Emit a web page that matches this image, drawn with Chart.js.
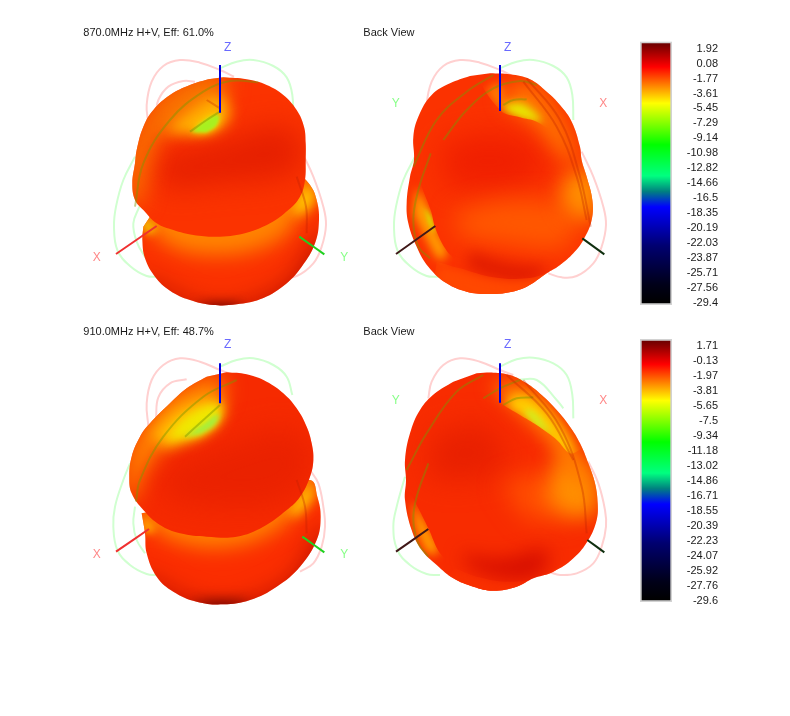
<!DOCTYPE html>
<html>
<head>
<meta charset="utf-8">
<title>Radiation patterns</title>
<script src="https://cdn.jsdelivr.net/npm/chart.js@4"></script>
<style>
    html, body { margin: 0; background: #fff; }
    canvas { position: absolute; }
</style>
</head>
<body>
<canvas id="p1" style="left:80px;top:20px"></canvas>
<canvas id="p2" style="left:360px;top:20px"></canvas>
<canvas id="p3" style="left:80px;top:320px"></canvas>
<canvas id="p4" style="left:360px;top:320px"></canvas>
<canvas id="scale870" style="left:630px;top:35px"></canvas>
<canvas id="scale910" style="left:630px;top:330px"></canvas>
<script>
// Colour scale values in dB
const ticks870 = [1.92, 0.08, -1.77, -3.61, -5.45, -7.29, -9.14, -10.98, -12.82, -14.66, -16.5, -18.35, -20.19, -22.03, -23.87, -25.71, -27.56, -29.4];
const ticks910 = [1.71, -0.13, -1.97, -3.81, -5.65, -7.5, -9.34, -11.18, -13.02, -14.86, -16.71, -18.55, -20.39, -22.23, -24.07, -25.92, -27.76, -29.6];
const range870 = [-29.65, 2.78];
const range910 = [-29.72, 2.53];

// Everything below is in view units: 3 units = 1 screen pixel inside a panel
const outerPinkTop = [[205,310],[200,255],[215,185],[250,138],[300,120],[360,128],[420,150],[462,170]];
const outerGreenTop = [[420,145],[470,125],[520,120],[580,138],[620,172],[637,225],[640,300]];
const outerGreenLeft = [[165,410],[130,480],[108,560],[102,620],[112,690],[150,738],[200,768],[240,770]];
const outerPinkRight = [[665,395],[700,470],[730,560],[738,615],[725,680],[700,730],[650,768],[605,772],[565,760]];

// 870 MHz front
const p1Lower = [[190,620],[187,660],[195,715],[225,770],[270,812],[330,840],[400,855],[470,853],[540,838],[610,798],[665,740],[705,670],[717,600],[710,540],[690,495],[660,470],[560,470],[300,560],[210,590]];
const p1Upper = [[430,172],[500,178],[560,195],[610,225],[650,270],[672,320],[677,370],[677,420],[675,480],[660,530],[625,570],[570,610],[500,638],[420,650],[340,645],[280,630],[230,610],[190,570],[165,540],[157,490],[165,430],[170,390],[190,320],[220,270],[270,225],[330,195],[385,178]];
const p1InnerPink = [[228,280],[235,240],[265,200],[310,183],[345,185]];
const p1InnerGreen = [[178,560],[160,610],[170,665],[195,710],[225,750]];
const p1Olive = [[535,187],[450,183],[370,215],[270,300],[190,430],[165,560]];
const p1Olive2 = [[420,275],[380,300],[330,335]];
const p1DarkPink = [[380,240],[420,265]];
const p1DarkPink2 = [[650,470],[678,560],[680,640]];
const p1LeftGlow = [[145,560],[140,430],[190,300],[270,210],[380,160],[435,165],[430,230],[330,290],[240,345],[200,450],[185,550]];
const p1Band = [[220,410],[400,370],[620,320],[670,420],[610,470],[430,490],[260,510]];
const p1Dimple = [[250,335],[320,275],[420,225],[450,285],[410,330],[340,345]];
const p1DimpleCore = [[335,337],[370,305],[415,285],[410,315],[380,337]];
const p1LowerBand = [[175,590],[235,650],[300,690],[420,705],[540,685],[630,630],[690,510],[725,560],[700,470],[500,500],[175,550]];
const p1LowerHotA = [[635,570],[680,495],[705,540],[660,590]];
const p1LowerHotB = [[190,590],[228,628],[205,640],[185,620]];
const p1Bottom = [[190,780],[300,845],[420,878],[540,850],[640,790],[735,650],[770,800],[420,930],[140,810]];
const p1BottomCore = [[340,858],[420,852],[490,858],[420,885]];

// 870 MHz back
const p2Body = [[390,160],[450,163],[510,178],[560,215],[600,255],[635,305],[660,380],[665,420],[680,470],[697,540],[695,600],[670,660],[640,700],[600,735],[560,760],[500,800],[440,818],[380,822],[320,815],[260,790],[205,740],[170,680],[145,610],[140,550],[150,470],[162,420],[160,350],[175,290],[215,225],[270,190],[330,168]];
const p2EdgeRegion = [[330,140],[420,270],[480,292],[530,305],[600,345],[660,300],[560,120]];
const p2SoftTop = [[430,205],[520,195],[590,275],[635,365],[650,440],[590,390],[530,315],[440,255]];
const p2StemGlow = [[375,215],[415,190],[440,240],[420,268]];
const p2Wedge = [[430,250],[490,250],[545,305],[480,295],[430,270]];
const p2RightGlow = [[610,470],[700,450],[705,590],[640,590],[600,540]];
const p2MidGlow = [[280,580],[450,540],[640,570],[620,680],[420,670],[300,650]];
const p2Center = [[240,370],[420,340],[560,420],[460,500],[260,500]];
const p2LeftRegion = [[130,440],[165,435],[185,500],[212,570],[228,630],[262,695],[300,735],[205,760],[120,620]];
const p2LeftGlow = [[170,500],[205,565],[228,630],[260,695],[240,720],[190,640],[160,580]];
const p2LeftCore = [[192,560],[215,595],[225,640],[205,610]];
const p2Rim = [[230,725],[300,745],[400,772],[500,775],[565,757],[620,720],[560,830],[380,860],[220,790]];
const p2RimDark = [[330,695],[450,730],[560,745],[500,785],[400,772],[320,740]];
const p2Olive = [[160,440],[230,300],[320,215],[400,165]];
const p2Olive2 = [[250,360],[320,270],[400,205],[480,183],[530,195]];
const p2Olive3 = [[430,255],[460,240],[500,238]];
const p2Olive4 = [[212,400],[175,510],[160,600],[175,680],[210,715]];
const p2DarkPink = [[500,175],[600,300],[660,470],[692,620]];
const p2DarkPink2 = [[490,185],[590,320],[650,470],[680,600]];

// 910 MHz front
const p3Lower = [[185,580],[195,640],[200,700],[230,770],[280,815],[350,845],[430,853],[510,840],[590,800],[660,740],[710,660],[722,590],[712,530],[690,480],[500,500],[300,560]];
const p3Upper = [[440,157],[500,163],[560,185],[610,220],[650,265],[680,320],[695,370],[700,420],[690,470],[660,530],[620,570],[550,620],[470,650],[380,650],[300,640],[240,615],[190,570],[155,520],[148,470],[155,410],[180,350],[210,310],[270,250],[320,205],[380,170]];
const p3PinkTop = [[205,318],[200,250],[215,180],[250,135],[300,115],[360,125],[420,150],[460,165]];
const p3InnerPink = [[228,295],[235,232],[270,190],[320,178]];
const p3PinkRight = [[690,450],[715,490],[730,560],[735,620],[725,680],[700,730],[660,755]];
const p3GreenTop = [[420,140],[470,120],[520,115],[580,135],[620,170],[637,225]];
const p3GreenLeft = [[150,430],[130,480],[105,560],[100,620],[112,690],[150,735],[200,762],[235,765]];
const p3InnerGreen = [[165,560],[160,610],[170,660],[195,700]];
const p3Olive = [[470,180],[370,230],[250,350],[180,480],[168,545]];
const p3Olive2 = [[420,255],[370,300],[315,350]];
const p3DarkPink = [[650,480],[675,560],[680,640]];
const p3LeftGlow = [[135,530],[145,400],[210,290],[300,205],[420,170],[430,240],[330,300],[250,380],[185,470],[170,540]];
const p3Dimple = [[215,345],[300,265],[415,235],[430,285],[370,345],[260,385]];
const p3DimpleYellow = [[260,360],[320,290],[415,255],[410,305],[360,345]];
const p3DimpleCore = [[310,352],[370,312],[415,282],[405,312],[360,342]];
const p3Band = [[240,450],[420,380],[640,330],[700,430],[620,540],[420,560],[260,540]];
const p3LowerBand = [[175,575],[240,640],[330,675],[430,682],[540,655],[640,585],[695,490],[735,560],[700,450],[500,500],[175,540]];
const p3LowerHot = [[625,575],[665,520],[690,490],[700,530],[650,590]];
const p3LowerHotB = [[185,585],[225,625],[205,640],[185,620]];
const p3Bottom = [[190,770],[300,840],[430,872],[540,845],[650,780],[745,630],[780,800],[420,930],[140,810]];
const p3BottomCore = [[320,852],[420,845],[510,852],[420,885]];

// 910 MHz back
const p4Body = [[350,160],[400,158],[450,165],[500,190],[545,225],[590,270],[630,320],[660,370],[685,430],[705,490],[713,550],[710,600],[685,660],[640,715],[580,755],[520,775],[470,800],[400,812],[340,800],[280,775],[230,735],[185,690],[155,630],[135,540],[138,480],[135,420],[150,340],[180,270],[225,220],[280,185]];
const p4PinkTop = [[205,235],[215,185],[250,135],[300,115],[360,125],[420,150],[460,165]];
const p4PinkRight = [[685,425],[715,490],[735,570],[738,620],[725,680],[700,730],[650,760],[600,765],[570,757]];
const p4GreenTop = [[420,140],[470,118],[520,113],[580,130],[620,165],[637,225],[640,295]];
const p4InnerGreen = [[470,180],[530,180],[590,240],[610,265]];
const p4GreenLeft = [[135,470],[110,560],[100,620],[112,690],[150,735],[200,762],[240,765]];
const p4EdgeRegion = [[340,140],[365,205],[420,248],[480,285],[530,315],[585,355],[640,400],[720,300],[600,120]];
const p4SoftTop = [[390,195],[440,185],[510,205],[590,290],[660,400],[680,500],[620,470],[570,370],[480,280]];
const p4Wedge = [[430,255],[470,225],[530,245],[610,335],[640,410],[595,395],[550,335],[480,285]];
const p4WedgeCore = [[490,270],[520,275],[570,340],[530,318]];
const p4RightGlow = [[590,420],[690,450],[710,570],[640,590],[560,540]];
const p4MidGlow = [[420,490],[600,460],[640,590],[500,600]];
const p4Dark = [[220,340],[380,320],[430,440],[300,480],[200,470]];
const p4LeftRegion = [[120,480],[142,500],[175,565],[205,625],[240,700],[285,745],[220,780],[110,660]];
const p4LeftGlow = [[155,540],[205,625],[235,695],[205,700],[165,620]];
const p4Rim = [[285,745],[350,770],[450,785],[540,770],[640,715],[560,840],[380,860],[240,790]];
const p4RimDark = [[300,700],[420,715],[560,690],[540,765],[430,778],[330,745]];
const p4Olive = [[140,450],[200,340],[290,215],[370,165]];
const p4Olive2 = [[370,235],[420,205],[480,180]];
const p4Olive3 = [[430,255],[470,235],[520,232]];
const p4Olive4 = [[205,430],[170,530],[160,600],[175,670],[205,710]];
const p4DarkPink = [[490,180],[600,320],[665,500],[680,640]];
const p4DarkPink2 = [[440,165],[560,280],[640,420]];

// Axis stubs per panel
const zAxisA = [[420,135],[420,278]];
const xAxisP1 = [[108,702],[230,618]];
const yAxisP1 = [[733,703],[658,650]];
const zAxisB = [[420,135],[420,273]];
const xAxisP2 = [[108,702],[226,618]];
const yAxisP2 = [[733,703],[667,655]];
const zAxisC = [[420,130],[420,250]];
const xAxisP3 = [[108,695],[207,627]];
const yAxisP3 = [[733,697],[667,650]];
const zAxisD = [[420,130],[420,248]];
const xAxisP4 = [[108,695],[205,627]];
const yAxisP4 = [[733,697],[682,660]];

const PINK = '#ffd0d0', GREEN = '#d0ffd0', OLIVE = 'rgba(120,150,0,0.45)', DARKPINK = 'rgba(190,30,0,0.32)';
const LABEL_BLUE = '#6a6aff', LABEL_RED = '#ff8888', LABEL_GREEN = '#88ff88';

const line = (points, color, width = 2) => ({ points, color, width });
const body = (points, color) => ({ points, fill: color });
const region = (points) => ({ points, fill: null });
const shade = (points, fill, blur, ...clips) => ({ points, fill, blur, clips });

const surfacePlugin = {
    id: 'surface',
    beforeDatasetDraw(chart, args) {
        const ds = chart.data.datasets[args.index];
        if (!ds.surfaceFill) return;
        const ctx = chart.ctx;
        ctx.save();
        (ds.clipTo || []).forEach(i => {
            ctx.beginPath();
            tracePath(chart, i);
            ctx.clip();
        });
        if (ds.surfaceBlur) ctx.filter = `blur(${ds.surfaceBlur}px)`;
        ctx.beginPath();
        tracePath(chart, args.index);
        ctx.fillStyle = ds.surfaceFill;
        ctx.fill();
        ctx.restore();
    },
    afterDraw(chart) {
        const { ctx, scales } = chart;
        ctx.save();
        ctx.textBaseline = 'middle';
        chart.options.plugins.surface.labels.forEach(([text, x, y, color, size, align]) => {
            ctx.font = `${size}px "Liberation Sans", Arial, sans-serif`;
            ctx.fillStyle = color;
            ctx.textAlign = align;
            ctx.fillText(text, scales.x.getPixelForValue(x), scales.y.getPixelForValue(y));
        });
        ctx.restore();
    }
};

function tracePath(chart, index) {
    const el = chart.getDatasetMeta(index).dataset;
    el.updateControlPoints(chart.chartArea);
    el.path(chart.ctx);
    chart.ctx.closePath();
}

function drawPanel(id, widthPx, layers, labels) {
    const canvas = document.getElementById(id);
    canvas.width = widthPx;
    canvas.height = 295;
    canvas.style.width = widthPx + 'px';
    canvas.style.height = '295px';
    const datasets = layers.map((l, i) => ({
        data: l.points.map(([x, y]) => ({ x, y })),
        showLine: true,
        pointRadius: 0,
        tension: 0.4,
        capBezierPoints: false,
        borderWidth: l.color ? l.width : 0,
        borderColor: l.color || 'transparent',
        surfaceFill: l.fill || null,
        surfaceBlur: l.blur || 0,
        clipTo: (l.clips || []).map(c => layers.findIndex(o => o.points === c)),
        order: layers.length - i
    }));
    new Chart(canvas, {
        type: 'scatter',
        data: { datasets },
        plugins: [surfacePlugin],
        options: {
            responsive: false,
            animation: false,
            devicePixelRatio: 1,
            events: [],
            layout: { padding: 0 },
            scales: {
                x: { type: 'linear', display: false, min: 0, max: widthPx * 3 },
                y: { type: 'linear', display: false, min: 0, max: 885, reverse: true }
            },
            plugins: {
                legend: { display: false },
                tooltip: { enabled: false },
                surface: { labels }
            }
        }
    });
}

function drawScale(id, ticks, range, top, bottom) {
    const canvas = document.getElementById(id);
    canvas.width = 100;
    canvas.height = 280;
    canvas.style.width = '100px';
    canvas.style.height = '280px';
    new Chart(canvas, {
        type: 'bar',
        data: {
            labels: ['dB'],
            datasets: [{
                data: [range],
                barPercentage: 1,
                categoryPercentage: 1,
                borderWidth: 2,
                borderSkipped: false,
                borderColor: '#d2d2d2',
                backgroundColor(c) {
                    const { chartArea, ctx } = c.chart;
                    if (!chartArea) return '#f00';
                    const g = ctx.createLinearGradient(0, chartArea.top + 2, 0, chartArea.bottom - 2);
                    [[0, '#6e0000'], [0.09, '#ff0000'], [0.16, '#ff8000'], [0.23, '#ffff00'], [0.39, '#00ff00'], [0.51, '#00ff80'],
                     [0.57, '#008080'], [0.63, '#0000ff'], [0.78, '#000070'], [0.93, '#000018'], [1, '#000000']]
                        .forEach(([s, col]) => g.addColorStop(s, col));
                    return g;
                }
            }]
        },
        options: {
            responsive: false,
            animation: false,
            devicePixelRatio: 1,
            events: [],
            layout: { padding: { left: 10, right: 12, top, bottom } },
            scales: {
                x: { display: false },
                y: {
                    position: 'right',
                    min: range[0],
                    max: range[1],
                    grid: { display: false },
                    border: { display: false },
                    afterBuildTicks(axis) { axis.ticks = ticks.map(value => ({ value })); },
                    afterFit(axis) { axis.width = 46; },
                    ticks: {
                        autoSkip: false,
                        maxRotation: 0,
                        padding: 0,
                        crossAlign: 'far',
                        color: '#1a1a1a',
                        font: { family: '"Liberation Sans", Arial, sans-serif', size: 11 },
                        callback: v => String(v)
                    }
                }
            },
            plugins: { legend: { display: false }, tooltip: { enabled: false } }
        }
    });
}

drawPanel('p1', 280, [
    line(outerPinkTop, PINK), line(p1InnerPink, PINK), line(outerPinkRight, PINK),
    line(outerGreenTop, GREEN), line(outerGreenLeft, GREEN), line(p1InnerGreen, GREEN),
    body(p1Lower, '#fb3200'),
    shade(p1LowerBand, '#ff8400', 10, p1Lower),
    shade(p1LowerHotA, '#ffc800', 6, p1Lower),
    shade(p1LowerHotB, '#f0d000', 4, p1Lower),
    shade(p1Bottom, '#b00800', 14, p1Lower),
    shade(p1BottomCore, '#600000', 6, p1Lower),
    body(p1Upper, '#fb3300'),
    shade(p1Band, '#e62000', 14, p1Upper),
    shade(p1LeftGlow, '#f87800', 11, p1Upper),
    shade(p1Dimple, '#ffb000', 7, p1Upper),
    shade(p1DimpleCore, '#e8f000', 4, p1Upper),
    shade(p1DimpleCore, '#a8f020', 1.5, p1Upper),
    line(p1Olive, OLIVE), line(p1Olive2, OLIVE), line(p1DarkPink, DARKPINK), line(p1DarkPink2, DARKPINK),
    line(xAxisP1, '#f03030'), line(yAxisP1, '#20d020'),
    line(zAxisA, '#0000e0', 2)
], [['870.0MHz H+V, Eff: 61.0%', 10, 40, '#1a1a1a', 11, 'left'],
    ['Z', 443, 82, LABEL_BLUE, 12, 'center'], ['X', 50, 712, LABEL_RED, 12, 'center'], ['Y', 793, 712, LABEL_GREEN, 12, 'center']]);

drawPanel('p2', 270, [
    line(outerPinkTop, PINK), line(outerPinkRight, PINK),
    line(outerGreenTop, GREEN), line(outerGreenLeft, GREEN),
    body(p2Body, '#fb3200'),
    region(p2EdgeRegion), region(p2LeftRegion), region(p2Rim),
    shade(p2Center, '#f02000', 14, p2Body),
    shade(p2MidGlow, '#ff5800', 12, p2Body),
    shade(p2RightGlow, '#ff9000', 10, p2Body),
    shade(p2RimDark, '#e01c00', 7, p2Body),
    shade(p2Rim, '#ff4800', 6, p2Body, p2Rim),
    shade(p2SoftTop, '#ff7800', 10, p2Body),
    shade(p2StemGlow, '#ff7800', 5, p2Body, p2EdgeRegion),
    shade(p2Wedge, '#e8e800', 4, p2Body, p2EdgeRegion),
    shade(p2LeftGlow, '#ffa000', 5, p2Body, p2LeftRegion),
    shade(p2LeftCore, '#d8e000', 2, p2Body, p2LeftRegion),
    line(p2Olive, OLIVE), line(p2Olive2, OLIVE), line(p2Olive3, OLIVE), line(p2Olive4, OLIVE),
    line(p2DarkPink, DARKPINK), line(p2DarkPink2, DARKPINK),
    line(yAxisP2, '#103010'), line(xAxisP2, '#401818'),
    line(zAxisB, '#0000e0', 2)
], [['Back View', 10, 40, '#1a1a1a', 11, 'left'],
    ['Z', 443, 82, LABEL_BLUE, 12, 'center'], ['Y', 107, 250, LABEL_GREEN, 12, 'center'], ['X', 730, 250, LABEL_RED, 12, 'center']]);

drawPanel('p3', 280, [
    line(p3PinkTop, PINK), line(p3InnerPink, PINK), line(p3PinkRight, PINK),
    line(p3GreenTop, GREEN), line(p3GreenLeft, GREEN), line(p3InnerGreen, GREEN),
    body(p3Lower, '#fb2e00'),
    shade(p3LowerBand, '#ff8400', 10, p3Lower),
    shade(p3LowerHot, '#ffc800', 6, p3Lower),
    shade(p3LowerHotB, '#ffb000', 4, p3Lower),
    shade(p3Bottom, '#b00800', 14, p3Lower),
    shade(p3BottomCore, '#5a0000', 7, p3Lower),
    body(p3Upper, '#f62a00'),
    shade(p3Band, '#ea2200', 14, p3Upper),
    shade(p3LeftGlow, '#ff8400', 10, p3Upper),
    shade(p3Dimple, '#ffc000', 7, p3Upper),
    shade(p3DimpleYellow, '#f0e800', 5, p3Upper),
    shade(p3DimpleCore, '#a0f040', 2.5, p3Upper),
    line(p3Olive, OLIVE), line(p3Olive2, OLIVE), line(p3DarkPink, DARKPINK),
    line(xAxisP3, '#f03030'), line(yAxisP3, '#20d020'),
    line(zAxisC, '#0000e0', 2)
], [['910.0MHz H+V, Eff: 48.7%', 10, 35, '#1a1a1a', 11, 'left'],
    ['Z', 443, 75, LABEL_BLUE, 12, 'center'], ['X', 50, 705, LABEL_RED, 12, 'center'], ['Y', 793, 705, LABEL_GREEN, 12, 'center']]);

drawPanel('p4', 270, [
    line(p4PinkTop, PINK), line(p4PinkRight, PINK),
    line(p4GreenTop, GREEN), line(p4InnerGreen, GREEN), line(p4GreenLeft, GREEN),
    body(p4Body, '#f82c00'),
    region(p4EdgeRegion), region(p4LeftRegion), region(p4Rim),
    shade(p4Dark, '#e82000', 14, p4Body),
    shade(p4MidGlow, '#ff5000', 12, p4Body),
    shade(p4RightGlow, '#ff9000', 10, p4Body),
    shade(p4RimDark, '#d81000', 9, p4Body),
    shade(p4Rim, '#f83000', 6, p4Body, p4Rim),
    shade(p4SoftTop, '#ff8000', 9, p4Body),
    shade(p4Wedge, '#ffd000', 6, p4Body, p4EdgeRegion),
    shade(p4WedgeCore, '#d0f020', 3, p4Body, p4EdgeRegion),
    shade(p4LeftGlow, '#ffa000', 5, p4Body, p4LeftRegion),
    line(p4Olive, OLIVE), line(p4Olive2, OLIVE), line(p4Olive3, OLIVE), line(p4Olive4, OLIVE),
    line(p4DarkPink, DARKPINK), line(p4DarkPink2, DARKPINK),
    line(yAxisP4, '#103010'), line(xAxisP4, '#401818'),
    line(zAxisD, '#0000e0', 2)
], [['Back View', 10, 35, '#1a1a1a', 11, 'left'],
    ['Z', 443, 75, LABEL_BLUE, 12, 'center'], ['Y', 107, 243, LABEL_GREEN, 12, 'center'], ['X', 730, 243, LABEL_RED, 12, 'center']]);

drawScale('scale870', ticks870, range870, 6, 10);
drawScale('scale910', ticks910, range910, 9, 8);
</script>
</body>
</html>
